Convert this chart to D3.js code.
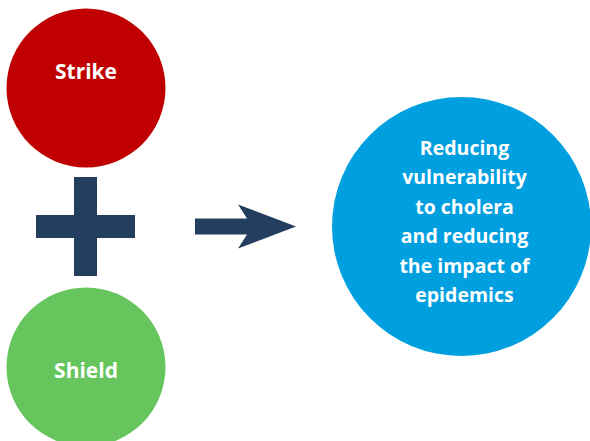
<!DOCTYPE html>
<meta charset="utf-8">
<style>
body {
  margin: 0;
  background: #fff;
}
svg text {
  font-family: "Open Sans", sans-serif;
  font-weight: 700;
  fill: #fff;
  text-anchor: middle;
}
</style>
<body>
<script src="https://cdn.jsdelivr.net/npm/d3@7"></script>
<script>
var width = 590,
    height = 441;

// the two inputs and the outcome
var inputs = ["Strike", "Shield"];
var inputColors = ["#c00000", "#66c55c"];
var outcomeLines = ["Reducing", "vulnerability", "to cholera", "and reducing", "the impact of", "epidemics"];

var svg = d3.select("body").append("svg")
    .attr("width", width)
    .attr("height", height);

var navy = "#243e5f";

// left column: Strike on top, Shield at the bottom
var y = d3.scalePoint()
    .domain(inputs)
    .range([88, 367]);

var left = svg.selectAll("g.input")
    .data(inputs)
  .enter().append("g")
    .attr("class", "input")
    .attr("transform", function(d) { return "translate(86," + y(d) + ")"; });

left.append("circle")
    .attr("r", 79.5)
    .attr("fill", function(d, i) { return inputColors[i]; });

left.append("text")
    .attr("y", function(d, i) { return i == 0 ? -9 : 11; })
    .attr("font-size", 21)
    .text(function(d) { return d; });

// plus sign between them
var mid = (y(inputs[0]) + y(inputs[1])) / 2;
var plus = svg.append("g")
    .attr("transform", "translate(85.5," + (mid - 1) + ")")
    .attr("fill", navy);
plus.append("rect").attr("x", -49.5).attr("y", -11.5).attr("width", 99).attr("height", 23);
plus.append("rect").attr("x", -11.5).attr("y", -49.5).attr("width", 23).attr("height", 99);

// arrow
svg.append("path")
    .attr("fill", navy)
    .attr("transform", "translate(0," + (mid - 1) + ")")
    .attr("d", "M195,-8H247Q242,-16 238,-22L296,0L238,22Q242,16 247,8H195Z");

// outcome circle
var outcome = svg.append("g")
    .attr("transform", "translate(461.5,226.5)");

outcome.append("circle")
    .attr("r", 129.5)
    .attr("fill", "#009fe0");

var lh = 29.5;
outcome.selectAll("text")
    .data(outcomeLines)
  .enter().append("text")
    .attr("x", 3)
    .attr("y", function(d, i) { return (i - (outcomeLines.length - 1) / 2) * lh + 2; })
    .attr("font-size", 19.5)
    .text(function(d) { return d; });
</script>
</body>
